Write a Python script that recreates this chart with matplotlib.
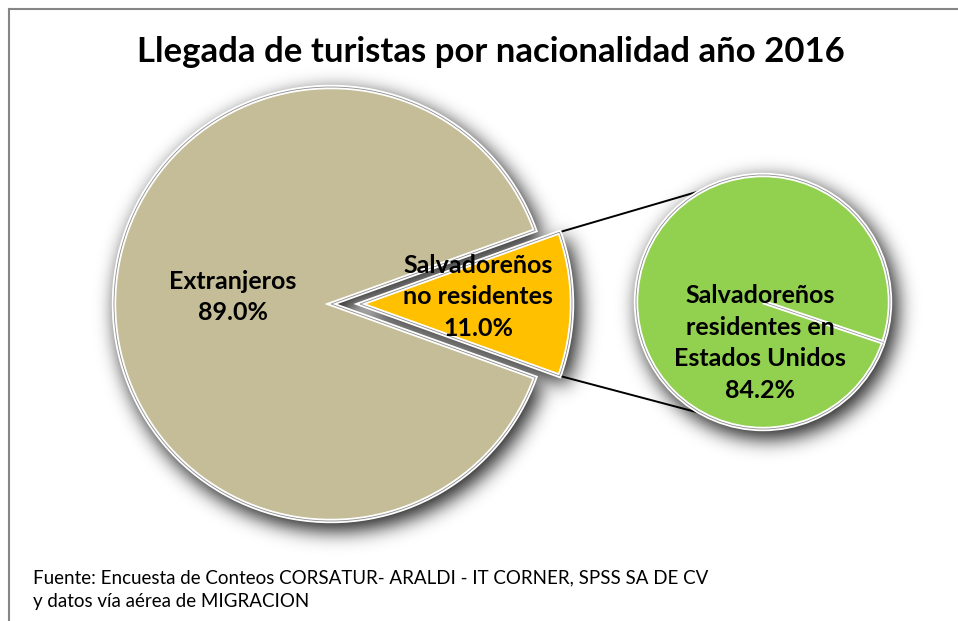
import numpy as np
import matplotlib
matplotlib.use("Agg")
import matplotlib.pyplot as plt
from matplotlib.patches import Wedge, Circle

# ---- data ----
main_labels = ["Extranjeros", "Salvadoreños\nno residentes"]
main_values = [89.0, 11.0]
sub_labels = ["Salvadoreños\nresidentes en\nEstados Unidos", "Otros"]
sub_values = [84.2, 15.8]
title = "Llegada de turistas por nacionalidad año 2016"
source = ["Fuente: Encuesta de Conteos CORSATUR- ARALDI - IT CORNER, SPSS SA DE CV",
          "y datos vía aérea de MIGRACION"]
colors_main = ["#C4BD97", "#FFC000"]
color_sub = "#92D050"

plt.rcParams['font.family'] = ['Lato', 'DejaVu Sans']

W, H = 958, 621
fig = plt.figure(figsize=(W / 100, H / 100), dpi=100)
ax = fig.add_axes([0, 0, 1, 1])

# geometry (pixels, y up)
c1 = np.array([331.0, H - 304.0])
r1 = 217.0
c2 = np.array([763.0, H - 302.0])
r2 = 127.0
explode_px = 29.0

half = main_values[1] / 100 * 360 / 2
start_main = half  # gold slice centred on 0 degrees
gold_center = c1 + np.array([explode_px, 0.0])
r_gold = r1 - 5

# ---- soft drop shadow (blurred mask of the pie shapes) ----
off = np.array([5.0, -7.0])
yy, xx = np.mgrid[0:H, 0:W] + 0.5
X = xx - off[0]
Y = yy - off[1]
d1 = np.hypot(X - c1[0], Y - c1[1])
a1 = np.degrees(np.arctan2(Y - c1[1], X - c1[0]))
dg = np.hypot(X - gold_center[0], Y - gold_center[1])
ag = np.degrees(np.arctan2(Y - gold_center[1], X - gold_center[0]))
d2 = np.hypot(X - c2[0], Y - c2[1])
mask = ((d1 <= r1 + 2) & (np.abs(a1) >= half)) | ((dg <= r_gold + 2) & (np.abs(ag) <= half)) | (d2 <= r2 + 2)
mask = mask.astype(float)
sigma = 9.0
ky = np.fft.fftfreq(H)[:, None]
kx = np.fft.fftfreq(W)[None, :]
G = np.exp(-2 * (np.pi ** 2) * (sigma ** 2) * (kx ** 2 + ky ** 2))
blur = np.real(np.fft.ifft2(np.fft.fft2(mask) * G))
blur = np.clip(blur, 0, 1)
rgba = np.zeros((H, W, 4))
rgba[..., 3] = 0.85 * blur ** 0.85
ax.imshow(rgba, extent=[0, W, 0, H], origin="lower", zorder=1, interpolation="bilinear")

# main pie
wedges, _ = ax.pie(main_values, colors=colors_main, startangle=start_main,
                   counterclock=True, center=tuple(c1), radius=r1,
                   explode=[0, explode_px],
                   wedgeprops=dict(edgecolor="white", linewidth=3.2), frame=True)
wedges[1].set_radius(r_gold)
for w in wedges:
    w.set_zorder(3)
    outline = Wedge(w.center, w.r, w.theta1, w.theta2, facecolor="none",
                    edgecolor="#8c8c8c", linewidth=0.6, zorder=4)
    ax.add_patch(outline)

# second pie
sub_start = -18.6
ax.add_patch(Circle(tuple(c2), r2, facecolor=color_sub, edgecolor="none", zorder=2.5))
sw, _ = ax.pie(sub_values, colors=[color_sub, color_sub], startangle=sub_start,
               counterclock=False, center=tuple(c2), radius=r2,
               wedgeprops=dict(edgecolor="none", linewidth=0), frame=True)
for w in sw:
    w.set_zorder(3)
ax.add_patch(Circle(tuple(c2), r2, facecolor="none", edgecolor="white", linewidth=3.2, zorder=4))
ax.add_patch(Circle(tuple(c2), r2, facecolor="none", edgecolor="#8c8c8c", linewidth=0.6, zorder=5))
ang = np.deg2rad(sub_start)
seg_x = [c2[0], c2[0] + r2 * np.cos(ang)]
seg_y = [c2[1], c2[1] + r2 * np.sin(ang)]
ax.plot(seg_x, seg_y, color="white", lw=3.2, zorder=5, solid_capstyle="butt")
ax.plot(seg_x, seg_y, color="#8c8c8c", lw=0.5, zorder=6, solid_capstyle="butt")

# connector lines
for s in (1, -1):
    p1 = gold_center + r_gold * np.array([np.cos(np.deg2rad(s * half)), np.sin(np.deg2rad(s * half))])
    a2 = np.deg2rad(s * 118.4)
    p2 = c2 + r2 * np.array([np.cos(a2), np.sin(a2)])
    ax.plot([p1[0], p2[0]], [p1[1], p2[1]], color="black", lw=1.4, zorder=2)

# labels
fs = 18
ls = 1.45
ax.text(233, H - 297, f"{main_labels[0]}\n{main_values[0]:.1f}%", ha="center", va="center",
        fontsize=fs, fontweight="bold", linespacing=ls, zorder=10)
ax.text(478, H - 297, f"{main_labels[1]}\n{main_values[1]:.1f}%", ha="center", va="center",
        fontsize=fs, fontweight="bold", linespacing=ls, zorder=10)
ax.text(760, H - 343, f"{sub_labels[0]}\n{sub_values[0]:.1f}%", ha="center", va="center",
        fontsize=fs, fontweight="bold", linespacing=ls, zorder=10)

# title
ax.text(491, H - 52, title, ha="center", va="center", fontsize=25, fontweight="bold")

# source
ax.text(33, H - 578, source[0], ha="left", va="center", fontsize=13.5)
ax.text(33, H - 601, source[1], ha="left", va="center", fontsize=13.5)

# chart border (top and left)
ax.plot([9.5, W], [H - 8.5, H - 8.5], color="#868686", lw=1.5, zorder=20, clip_on=False)
ax.plot([9.5, 9.5], [0, H - 8.5], color="#868686", lw=1.5, zorder=20, clip_on=False)

ax.set_xlim(0, W)
ax.set_ylim(0, H)
ax.set_aspect("auto")
ax.axis("off")
fig.savefig("out.png", dpi=100)
